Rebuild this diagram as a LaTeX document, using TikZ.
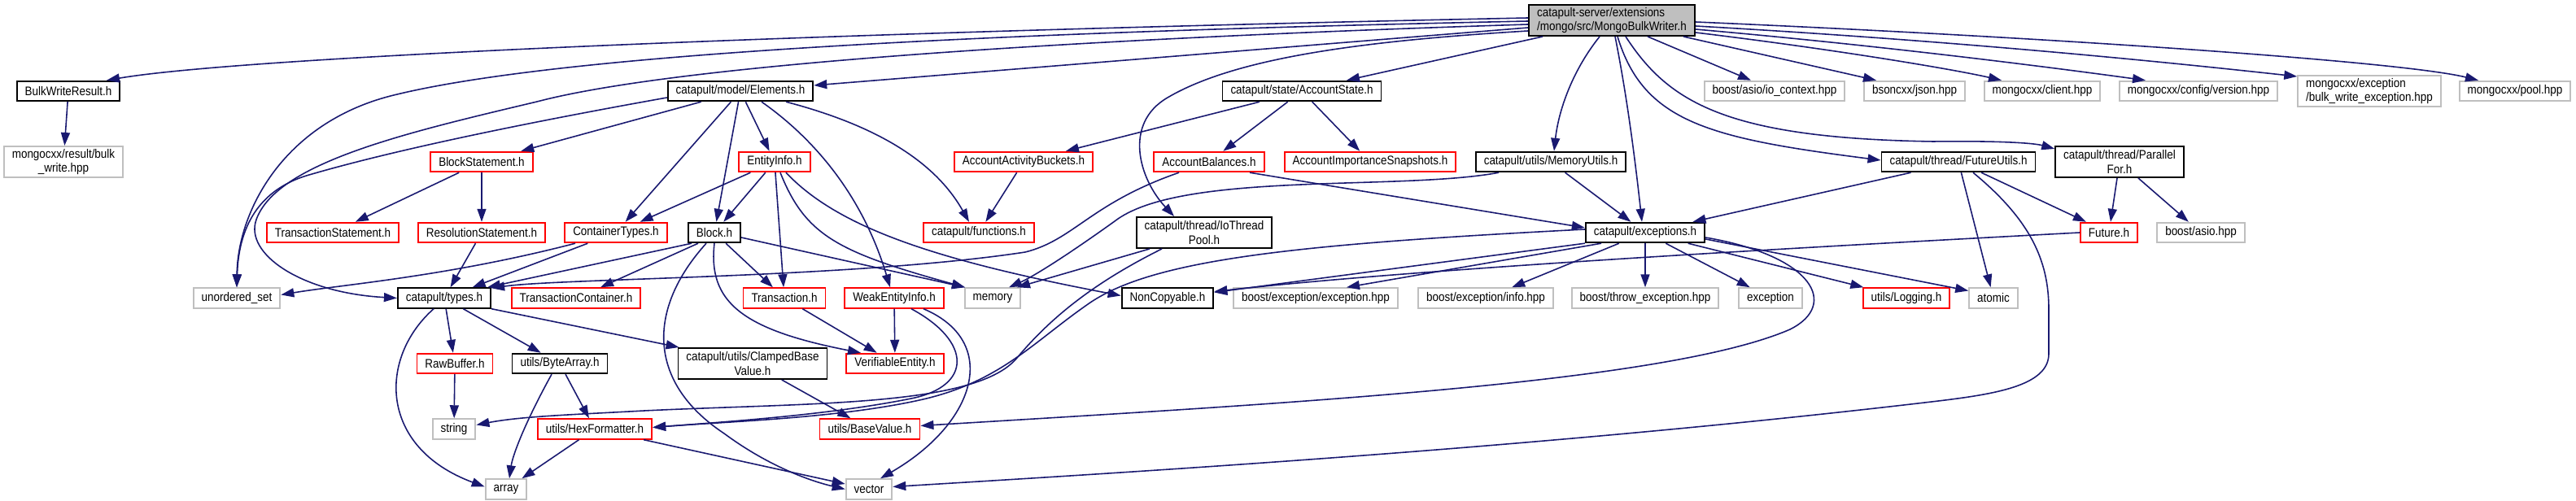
\documentclass[tikz,border=0pt]{standalone}
\usepackage{fontspec}
\setmainfont{Liberation Sans}[FakeStretch=0.88]
\usepackage{tikz}
\usepackage{xcolor}
\usetikzlibrary{arrows.meta}
\definecolor{edgeblue}{HTML}{191970}
\definecolor{extgray}{HTML}{BFBFBF}
\definecolor{rootfill}{HTML}{BFBFBF}
\definecolor{truncred}{HTML}{FF0000}
\tikzset{
  filebox/.style={draw=black,fill=white,line width=0.55pt,
                  minimum height=0.245cm,inner xsep=0.1cm,inner ysep=0.03cm,
                  font=\fontsize{4.35}{3.93}\selectfont},
  docbox/.style={filebox},
  redbox/.style={filebox,draw=truncred},
  extbox/.style={filebox,draw=extgray},
  rootbox/.style={filebox,fill=rootfill,align=left,minimum height=0.38cm},
  twoline/.style={align=center,minimum height=0.38cm},
  incarr/.style={-{Triangle[length=0.16cm,width=0.11cm]},line width=0.45pt,color=edgeblue}
}

\begin{document}
\begin{tikzpicture}[x=1cm,y=1cm]
  \useasboundingbox (0,0) rectangle (31.66,-6.16);
  % rank 0 and 1
  \node[rootbox] (root) at (19.81,-0.25) {catapult-server/extensions\\/mongo/src/MongoBulkWriter.h};
  \node[docbox] (bwr) at (0.84,-1.12) {BulkWriteResult.h};
  \node[docbox] (elements) at (9.10,-1.12) {catapult/model/Elements.h};
  \node[docbox] (accstate) at (16.00,-1.12) {catapult/state/AccountState.h};
  \node[extbox] (iocontext) at (21.81,-1.12) {boost/asio/io\_context.hpp};
  \node[extbox] (json) at (23.53,-1.12) {bsoncxx/json.hpp};
  \node[extbox] (client) at (25.10,-1.12) {mongocxx/client.hpp};
  \node[extbox] (version) at (27.02,-1.12) {mongocxx/config/version.hpp};
  \node[extbox,twoline,align=left] (bwexc) at (29.12,-1.12) {mongocxx/exception\\/bulk\_write\_exception.hpp};
  \node[extbox] (pool) at (30.91,-1.12) {mongocxx/pool.hpp};
  % rank 2
  \node[extbox,twoline] (bwhpp) at (0.78,-1.99) {mongocxx/result/bulk\\\_write.hpp};
  \node[redbox] (blockstmt) at (5.92,-1.99) {BlockStatement.h};
  \node[redbox] (entityinfo) at (9.52,-1.99) {EntityInfo.h};
  \node[redbox] (buckets) at (12.58,-1.99) {AccountActivityBuckets.h};
  \node[redbox] (balances) at (14.86,-1.99) {AccountBalances.h};
  \node[redbox] (snapshots) at (16.84,-1.99) {AccountImportanceSnapshots.h};
  \node[docbox] (memutils) at (19.06,-1.99) {catapult/utils/MemoryUtils.h};
  \node[docbox] (fututils) at (24.07,-1.99) {catapult/thread/FutureUtils.h};
  \node[docbox,twoline] (parfor) at (26.05,-1.99) {catapult/thread/Parallel\\For.h};
  % rank 3
  \node[redbox] (txstmt) at (4.09,-2.86) {TransactionStatement.h};
  \node[redbox] (resstmt) at (5.92,-2.86) {ResolutionStatement.h};
  \node[redbox] (ctypes) at (7.57,-2.86) {ContainerTypes.h};
  \node[docbox] (block) at (8.78,-2.86) {Block.h};
  \node[redbox] (functions) at (12.03,-2.86) {catapult/functions.h};
  \node[docbox,twoline] (iopool) at (14.80,-2.86) {catapult/thread/IoThread\\Pool.h};
  \node[docbox] (exceptions) at (20.22,-2.86) {catapult/exceptions.h};
  \node[redbox] (future) at (25.92,-2.86) {Future.h};
  \node[extbox] (asio) at (27.05,-2.86) {boost/asio.hpp};
  % rank 4
  \node[extbox] (uset) at (2.91,-3.665) {unordered\_set};
  \node[docbox] (types) at (5.46,-3.665) {catapult/types.h};
  \node[redbox] (txcont) at (7.08,-3.665) {TransactionContainer.h};
  \node[redbox] (tx) at (9.64,-3.665) {Transaction.h};
  \node[redbox] (weak) at (10.99,-3.665) {WeakEntityInfo.h};
  \node[extbox] (memory) at (12.20,-3.665) {memory};
  \node[docbox] (noncopy) at (14.35,-3.665) {NonCopyable.h};
  \node[extbox] (bexc) at (16.17,-3.665) {boost/exception/exception.hpp};
  \node[extbox] (binfo) at (18.26,-3.665) {boost/exception/info.hpp};
  \node[extbox] (bthrow) at (20.22,-3.665) {boost/throw\_exception.hpp};
  \node[extbox] (exc) at (21.76,-3.665) {exception};
  \node[redbox] (logging) at (23.43,-3.665) {utils/Logging.h};
  \node[extbox] (atomic) at (24.50,-3.665) {atomic};
  % rank 5 to 7
  \node[redbox] (rawbuf) at (5.59,-4.47) {RawBuffer.h};
  \node[docbox] (bytearr) at (6.88,-4.47) {utils/ByteArray.h};
  \node[docbox,twoline] (clamped) at (9.25,-4.47) {catapult/utils/ClampedBase\\Value.h};
  \node[redbox] (verif) at (11.00,-4.47) {VerifiableEntity.h};
  \node[extbox] (string) at (5.58,-5.275) {string};
  \node[redbox] (hexfmt) at (7.31,-5.275) {utils/HexFormatter.h};
  \node[redbox] (basevalue) at (10.69,-5.275) {utils/BaseValue.h};
  \node[extbox] (array) at (6.22,-6.015) {array};
  \node[extbox] (vector) at (10.68,-6.015) {vector};
  % includes of the root file
  \draw[incarr] ([yshift=0.03cm]root.west) .. controls (10.0,-0.40) and (3.0,-0.70) .. ([xshift=0.47cm]bwr.north);
  \draw[incarr] ([yshift=-0.01cm]root.west) .. controls (13.0,-0.38) and (7.0,-0.62) .. (4.80,-1.18)
    .. controls (3.48,-1.52) and (2.92,-2.6) .. (uset.north);
  \draw[incarr] ([yshift=-0.05cm]root.west) .. controls (14.0,-0.45) and (8.5,-0.75) .. (6.60,-1.25)
    .. controls (5.0,-1.63) and (3.4,-2.0) .. (3.15,-2.70) .. controls (3.0,-3.12) and (3.7,-3.6) .. (types.west);
  \draw[incarr] ([yshift=-0.09cm]root.west) -- ([yshift=0.07cm]elements.east);
  \draw[incarr] ([yshift=-0.13cm]root.west) .. controls (16.8,-0.50) and (15.2,-0.70) .. (14.35,-1.20)
    .. controls (13.8,-1.52) and (14.0,-2.2) .. ([xshift=-0.37cm]iopool.north);
  \draw[incarr] ([xshift=-0.85cm]root.south) -- ([xshift=0.55cm]accstate.north);
  \draw[incarr] ([xshift=-0.15cm]root.south) .. controls (19.3,-0.9) and (19.15,-1.4) .. ([xshift=0.04cm]memutils.north);
  \draw[incarr] ([xshift=0.04cm]root.south) .. controls (20.0,-1.2) and (20.1,-2.0) .. ([xshift=-0.04cm]exceptions.north);
  \draw[incarr] ([xshift=0.07cm]root.south) .. controls (20.2,-1.5) and (21.0,-1.7) .. ([yshift=0.02cm]fututils.west);
  \draw[incarr] ([xshift=0.17cm]root.south) .. controls (20.5,-1.25) and (21.2,-1.7) .. (23.76,-1.74)
    .. controls (24.6,-1.73) and (25.0,-1.76) .. ([yshift=0.16cm]parfor.west);
  \draw[incarr] ([xshift=0.44cm]root.south) -- ([xshift=-0.29cm]iocontext.north);
  \draw[incarr] ([xshift=0.88cm]root.south) -- ([xshift=-0.47cm]json.north);
  \draw[incarr] ([yshift=-0.15cm]root.east) .. controls (22.5,-0.6) and (24.0,-0.85) .. ([xshift=-0.5cm]client.north);
  \draw[incarr] ([yshift=-0.11cm]root.east) .. controls (23.0,-0.55) and (25.0,-0.8) .. ([xshift=-0.65cm]version.north);
  \draw[incarr] ([yshift=-0.07cm]root.east) .. controls (24.0,-0.50) and (26.5,-0.75) .. ([yshift=-0.02cm]bwexc.north west);
  \draw[incarr] ([yshift=-0.02cm]root.east) .. controls (25.0,-0.45) and (29.5,-0.75) .. ([xshift=-0.45cm]pool.north);
  \draw[incarr] (bwr) -- (bwhpp);
  % model and state headers
  \draw[incarr] (elements) -- (blockstmt);
  \draw[incarr] (elements) -- (ctypes);
  \draw[incarr] (elements) -- (block);
  \draw[incarr] (elements) -- (entityinfo);
  \draw[incarr] ([xshift=0.26cm]elements.south) .. controls (10.0,-1.7) and (10.6,-2.4) .. ([xshift=-0.05cm]weak.north);
  \draw[incarr] ([xshift=0.56cm]elements.south) .. controls (10.8,-1.55) and (11.5,-2.0) .. ([xshift=-0.12cm]functions.north);
  \draw[incarr] ([yshift=-0.08cm]elements.west) .. controls (6.8,-1.45) and (5.0,-1.80) .. (3.80,-2.15)
    .. controls (3.1,-2.35) and (2.93,-2.9) .. (uset.north);
  \draw[incarr] (accstate) -- (buckets);
  \draw[incarr] (accstate) -- (balances);
  \draw[incarr] (accstate) -- (snapshots);
  \draw[incarr] (blockstmt) -- (txstmt);
  \draw[incarr] (blockstmt) -- (resstmt);
  \draw[incarr] (entityinfo) -- (ctypes);
  \draw[incarr] (entityinfo) -- (block);
  \draw[incarr] (entityinfo) -- (tx);
  \draw[incarr] ([xshift=0.07cm]entityinfo.south) .. controls (9.9,-2.9) and (10.3,-3.1) .. ([xshift=-0.34cm]memory.north);
  \draw[incarr] ([xshift=0.14cm]entityinfo.south) .. controls (10.3,-2.8) and (11.5,-3.2) .. ([yshift=0.03cm]noncopy.west);
  \draw[incarr] (buckets) -- (functions);
  \draw[incarr] ([xshift=-0.37cm]balances.south) .. controls (13.4,-2.5) and (13.2,-2.95) .. (12.6,-3.1)
    .. controls (10.5,-3.42) and (6.9,-3.42) .. ([yshift=-0.01cm]types.north east);
  \draw[incarr] ([xshift=0.5cm]balances.south) -- ([yshift=0.06cm]exceptions.west);
  \draw[incarr] (memutils) -- (exceptions);
  \draw[incarr] ([xshift=-0.64cm]memutils.south) .. controls (17.2,-2.35) and (14.5,-2.1) .. (13.7,-2.72)
    .. controls (13.1,-3.15) and (12.7,-3.4) .. ([xshift=0.2cm]memory.north);
  % thread headers
  \draw[incarr] (fututils) -- (exceptions);
  \draw[incarr] (fututils) -- (future);
  \draw[incarr] (fututils) -- (atomic);
  \draw[incarr] ([xshift=0.18cm]fututils.south) .. controls (24.95,-2.7) and (25.18,-3.2) .. (25.18,-3.8) -- (25.18,-4.35)
    .. controls (25.18,-4.75) and (24.5,-4.85) .. (23.74,-4.94) .. controls (19.0,-5.5) and (14.0,-5.8) .. ([yshift=0.03cm]vector.east);
  \draw[incarr] (parfor) -- (future);
  \draw[incarr] (parfor) -- (asio);
  \draw[incarr] (future.west) .. controls (22.0,-3.05) and (17.5,-3.3) .. ([yshift=0.08cm]noncopy.east);
  \draw[incarr] ([xshift=-0.67cm]iopool.south) -- ([xshift=0.3cm]memory.north);
  \draw[incarr] ([xshift=-0.52cm]iopool.south) .. controls (13.6,-3.4) and (13.0,-3.8) .. (12.5,-4.4)
    .. controls (12.0,-5.0) and (10.0,-4.95) .. (7.92,-5.05) .. controls (7.0,-5.1) and (6.4,-5.12) .. ([yshift=0.05cm]string.east);
  % exceptions
  \draw[incarr] ([xshift=-0.54cm]exceptions.south) -- ([xshift=0.38cm]bexc.north);
  \draw[incarr] (exceptions) -- (binfo);
  \draw[incarr] (exceptions) -- (bthrow);
  \draw[incarr] (exceptions) -- (exc);
  \draw[incarr] (exceptions) -- (logging);
  \draw[incarr] ([yshift=-0.08cm]exceptions.east) -- ([yshift=0.09cm]atomic.west);
  \draw[incarr] ([yshift=-0.06cm]exceptions.east) .. controls (22.3,-3.15) and (22.6,-3.75) .. (22.0,-4.05)
    .. controls (20.5,-4.7) and (16.0,-4.95) .. ([yshift=0.04cm]basevalue.east);
  \draw[incarr] (exceptions.south west) -- ([yshift=0.07cm]noncopy.east);
  \draw[incarr] ([yshift=0.04cm]exceptions.west) .. controls (16.0,-3.0) and (14.2,-3.18) .. (13.4,-3.72)
    .. controls (12.7,-4.2) and (12.3,-4.7) .. (11.3,-4.92) .. controls (10.3,-5.14) and (9.0,-5.18) .. ([yshift=0.02cm]hexfmt.east);
  % block and entities
  \draw[incarr] ([xshift=-0.28cm]block.south) -- ([xshift=-0.05cm]types.north east);
  \draw[incarr] ([xshift=-0.2cm]block.south) -- ([xshift=0.3cm]txcont.north);
  \draw[incarr] (block) -- (tx);
  \draw[incarr] ([yshift=-0.06cm]block.east) -- ([xshift=-0.34cm]memory.north);
  \draw[incarr] (block.south) .. controls (8.7,-3.7) and (9.1,-4.05) .. ([xshift=-0.42cm]verif.north);
  \draw[incarr] ([xshift=-0.1cm]block.south) .. controls (7.95,-3.8) and (7.95,-4.7) .. (8.9,-5.33)
    .. controls (9.4,-5.7) and (9.9,-5.9) .. (vector.west);
  \draw[incarr] (tx) -- (verif);
  \draw[incarr] (weak) -- (verif);
  \draw[incarr] ([xshift=0.21cm]weak.south) .. controls (11.95,-4.2) and (11.95,-4.75) .. (11.2,-4.9)
    .. controls (10.2,-5.1) and (9.0,-5.18) .. ([yshift=0.02cm]hexfmt.east);
  \draw[incarr] ([xshift=0.36cm]weak.south) .. controls (12.3,-4.2) and (12.0,-5.2) .. ([xshift=0.14cm]vector.north);
  \draw[incarr] (ctypes) -- (types);
  \draw[incarr] ([xshift=-0.5cm]ctypes.south) .. controls (5.5,-3.4) and (4.2,-3.5) .. ([yshift=0.04cm]uset.east);
  \draw[incarr] (resstmt) -- (types);
  % basic types
  \draw[incarr] (types) -- (rawbuf);
  \draw[incarr] (types) -- (bytearr);
  \draw[incarr] ([xshift=-0.13cm]types.south) .. controls (4.65,-4.4) and (4.65,-5.5) .. ([yshift=0.03cm]array.west);
  \draw[incarr] (types.south east) -- ([xshift=0.02cm]clamped.north west);
  \draw[incarr] (rawbuf) -- (string);
  \draw[incarr] ([xshift=-0.1cm]bytearr.south) .. controls (6.45,-5.2) and (6.3,-5.6) .. ([xshift=0.04cm]array.north);
  \draw[incarr] (bytearr) -- (hexfmt);
  \draw[incarr] (hexfmt) -- (array);
  \draw[incarr] (hexfmt) -- (vector);
  \draw[incarr] (clamped) -- (basevalue);
\end{tikzpicture}
\end{document}
